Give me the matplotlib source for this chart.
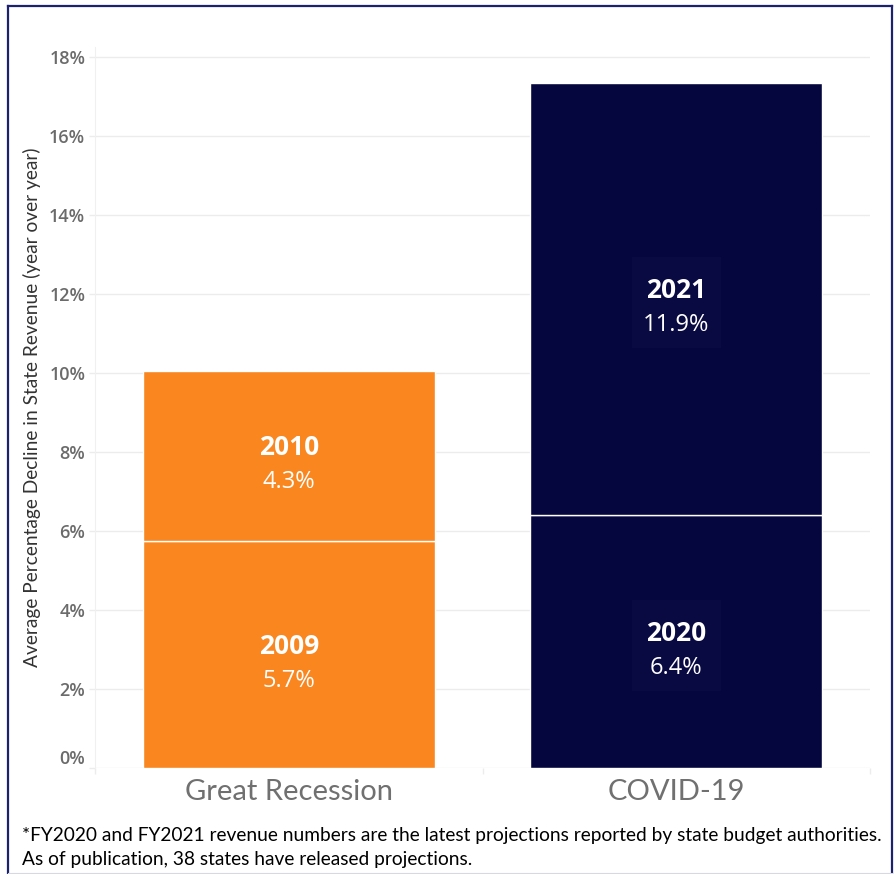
import matplotlib.pyplot as plt
from matplotlib.lines import Line2D
from matplotlib.patches import Rectangle

# data
categories = ['Great Recession', 'COVID-19']
first_years = ['2009', '2020']
first_vals = [5.75, 6.4]
first_labels = ['5.7%', '6.4%']
second_years = ['2010', '2021']
second_vals = [4.3, 10.95]
second_labels = ['4.3%', '11.9%']
bar_colors = ['#F9861F', '#06063E']
box_colors = [None, '#0A0A43']
yticks = [0, 2, 4, 6, 8, 10, 12, 14, 16, 18]

fig = plt.figure(figsize=(8.96, 8.74), dpi=100)
ax = fig.add_axes([95 / 896, 106 / 874, 775 / 896, 721 / 874])

x = list(range(len(categories)))
ax.bar(x, first_vals, width=0.753, color=bar_colors, edgecolor='white', linewidth=1, zorder=2)
ax.bar(x, second_vals, width=0.753, bottom=first_vals, color=bar_colors,
       edgecolor='white', linewidth=1, zorder=2)


def seg_label(xi, mid, year, pct, box):
    if box is not None:
        # faint label panel behind both lines
        ax.add_patch(Rectangle((xi - 0.115, mid - 1.25), 0.23, 2.3, facecolor=box,
                               edgecolor='none', zorder=3))
    ax.annotate(year, (xi, mid), xytext=(0, 6), textcoords='offset points',
                ha='center', va='center', fontsize=19, fontweight='bold',
                color='white', family='Open Sans', zorder=4)
    ax.annotate(pct, (xi, mid), xytext=(0, -19), textcoords='offset points',
                ha='center', va='center', fontsize=17, color='white',
                family='Open Sans', zorder=4)


for i in x:
    seg_label(i, first_vals[i] / 2, first_years[i], first_labels[i], box_colors[i])
    seg_label(i, first_vals[i] + second_vals[i] / 2, second_years[i], second_labels[i], box_colors[i])

ax.set_xlim(-0.5, 1.5)
ax.set_ylim(0, 18.25)
ax.set_yticks(yticks)
ax.set_yticklabels(['{}%'.format(t) for t in yticks], family='Open Sans',
                   fontsize=13, fontweight='semibold', color='#6b6b6b')
ax.get_yticklabels()[0].set_va('bottom')
ax.set_xticks(x)
ax.set_xticklabels(categories, family='Lato', fontsize=21, color='#707070')
ax.set_xticks([-0.5, 0.5, 1.5], minor=True)
ax.tick_params(axis='x', which='major', length=0, pad=8)
ax.tick_params(axis='x', which='minor', length=4, color='#ececec', width=1)
ax.tick_params(axis='y', length=4, color='#ececec', width=1, pad=3)
ax.grid(axis='y', color='#ececec', linewidth=1, zorder=0)
for s in ['top', 'right', 'bottom']:
    ax.spines[s].set_visible(False)
ax.spines['left'].set_color('#f0f0f0')

ax.set_ylabel('Average Percentage Decline in State Revenue (year over year)',
              family='Lato', fontsize=13.8, color='#333333', labelpad=6)

fig.text(22 / 896, 1 - 836 / 874,
         '*FY2020 and FY2021 revenue numbers are the latest projections reported by state budget authorities.',
         family='Lato', fontsize=13.8, color='black', va='center')
fig.text(22 / 896, 1 - 859 / 874,
         'As of publication, 38 states have released projections.',
         family='Lato', fontsize=13.8, color='black', va='center')

# frame around the whole graphic
navy = '#1C2270'
fig.add_artist(Line2D([8 / 896, 8 / 896], [0, 1 - 6 / 874], color=navy, lw=1.6, transform=fig.transFigure))
fig.add_artist(Line2D([892 / 896, 892 / 896], [0, 1 - 6 / 874], color=navy, lw=1.6, transform=fig.transFigure))
fig.add_artist(Line2D([8 / 896, 892 / 896], [1 - 6 / 874, 1 - 6 / 874], color=navy, lw=1.6, transform=fig.transFigure))
fig.add_artist(Line2D([8 / 896, 892 / 896], [1.2 / 874, 1.2 / 874], color='#d8d8e0', lw=0.8, transform=fig.transFigure))

fig.savefig('out.png', dpi=100)
